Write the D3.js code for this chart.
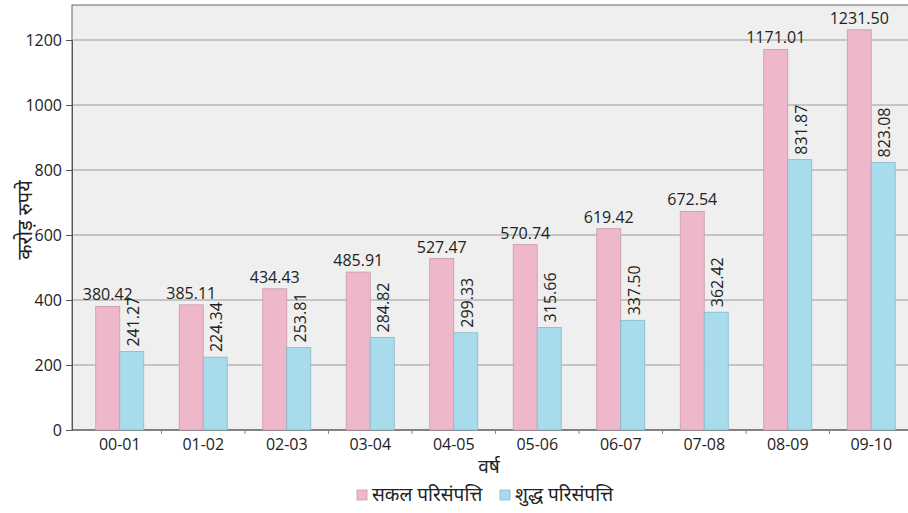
<!DOCTYPE html>
<html>
<head>
<meta charset="utf-8">
<script src="https://cdn.jsdelivr.net/npm/d3@7"></script>
<style>
  body { margin: 0; background: #fff; }
  svg { display: block; }
  text { font-family: "Open Sans", "Noto Sans", sans-serif; fill: #222; }
  .hi { font-family: "Noto Sans Devanagari", "Lohit Devanagari", "Noto Sans", sans-serif; }
</style>
</head>
<body>
<div id="chart"></div>
<script>
// data
var years = ["00-01", "01-02", "02-03", "03-04", "04-05", "05-06", "06-07", "07-08", "08-09", "09-10"];
var gross = [380.42, 385.11, 434.43, 485.91, 527.47, 570.74, 619.42, 672.54, 1171.01, 1231.50];
var net = [241.27, 224.34, 253.81, 284.82, 299.33, 315.66, 337.50, 362.42, 831.87, 823.08];
var yTicks = [0, 200, 400, 600, 800, 1000, 1200];
var seriesNames = ["सकल परिसंपत्ति", "शुद्ध परिसंपत्ति"];
var colors = ["#efb7ca", "#a8dbeb"];
var strokes = ["#c99aab", "#86b9c9"];

var width = 908, height = 513;
var plotLeft = 72, plotTop = 5, plotBottom = 430;

var svg = d3.select("#chart").append("svg")
  .attr("width", width)
  .attr("height", height);

var x = d3.scaleBand().domain(years).range([78, 913]).paddingInner(0.425).paddingOuter(0.2125);
var xs = d3.scaleBand().domain([0, 1]).range([0, x.bandwidth()]);
var y = d3.scaleLinear().domain([0, 1200]).range([plotBottom, 40]);

// plot background
svg.append("rect")
  .attr("x", plotLeft).attr("y", plotTop)
  .attr("width", width - plotLeft + 2).attr("height", plotBottom - plotTop)
  .attr("fill", "#efefef")
  .attr("stroke", "#666").attr("stroke-width", 1);

// grid
svg.append("g").selectAll("line").data(yTicks.filter(d => d > 0)).join("line")
  .attr("x1", plotLeft).attr("x2", width)
  .attr("y1", d => y(d)).attr("y2", d => y(d))
  .attr("stroke", "#9a9a9a").attr("stroke-width", 1);

// y axis
var yAxis = svg.append("g")
  .attr("transform", "translate(" + plotLeft + ",0)")
  .call(d3.axisLeft(y).tickValues(yTicks).tickFormat(d3.format("d")).tickSize(6).tickPadding(4));
yAxis.select(".domain").attr("stroke", "#555");
yAxis.selectAll(".tick line").attr("stroke", "#555");
yAxis.selectAll(".tick text").style("font-size", "16px").attr("fill", "#222");

// x axis
var xAxis = svg.append("g")
  .attr("transform", "translate(0," + plotBottom + ")")
  .call(d3.axisBottom(x).tickSize(0).tickPadding(9));
xAxis.select(".domain").attr("stroke", "#555").attr("d", "M" + plotLeft + ",0H" + width);
xAxis.selectAll(".tick text").style("font-size", "16px").attr("fill", "#222");

// small tick marks between categories
svg.append("g").selectAll("line").data(years.slice(1)).join("line")
  .attr("x1", d => x(d) - x.step() * x.paddingInner() / 2)
  .attr("x2", d => x(d) - x.step() * x.paddingInner() / 2)
  .attr("y1", plotBottom).attr("y2", plotBottom + 4)
  .attr("stroke", "#888");

// bars
var groups = svg.append("g").selectAll("g").data(years).join("g")
  .attr("transform", d => "translate(" + x(d) + ",0)");

groups.append("rect")
  .attr("x", xs(0)).attr("width", xs.bandwidth())
  .attr("y", (d, i) => y(gross[i])).attr("height", (d, i) => plotBottom - y(gross[i]))
  .attr("fill", colors[0]).attr("stroke", strokes[0]).attr("stroke-width", 0.8);

groups.append("rect")
  .attr("x", xs(1)).attr("width", xs.bandwidth())
  .attr("y", (d, i) => y(net[i])).attr("height", (d, i) => plotBottom - y(net[i]))
  .attr("fill", colors[1]).attr("stroke", strokes[1]).attr("stroke-width", 0.8);

// value labels
groups.append("text")
  .attr("x", xs(0) + xs.bandwidth() / 2)
  .attr("y", (d, i) => y(gross[i]) - 6)
  .attr("text-anchor", "middle")
  .style("font-size", "16px")
  .text((d, i) => gross[i].toFixed(2));

groups.append("text")
  .attr("transform", (d, i) => "translate(" + (xs(1) + xs.bandwidth() / 2 + 7) + "," + (y(net[i]) - 5) + ") rotate(-90)")
  .style("font-size", "16px")
  .text((d, i) => net[i].toFixed(2));

// axis titles
svg.append("text").attr("class", "hi")
  .attr("transform", "translate(32,220) rotate(-90)")
  .attr("text-anchor", "middle")
  .style("font-size", "20px")
  .text("करोड़ रुपये");

svg.append("text").attr("class", "hi")
  .attr("x", 489).attr("y", 473)
  .attr("text-anchor", "middle")
  .style("font-size", "19px")
  .text("वर्ष");

// legend
var legend = svg.append("g").attr("transform", "translate(357,501)");
var lx = [0, 143];
seriesNames.forEach(function (name, i) {
  var g = legend.append("g").attr("transform", "translate(" + lx[i] + ",0)");
  g.append("rect").attr("x", 0).attr("y", -11).attr("width", 10).attr("height", 10)
    .attr("fill", colors[i]).attr("stroke", strokes[i]).attr("stroke-width", 0.8);
  g.append("text").attr("class", "hi").attr("x", 15).attr("y", 0)
    .style("font-size", "19px").text(name);
});
</script>
</body>
</html>
